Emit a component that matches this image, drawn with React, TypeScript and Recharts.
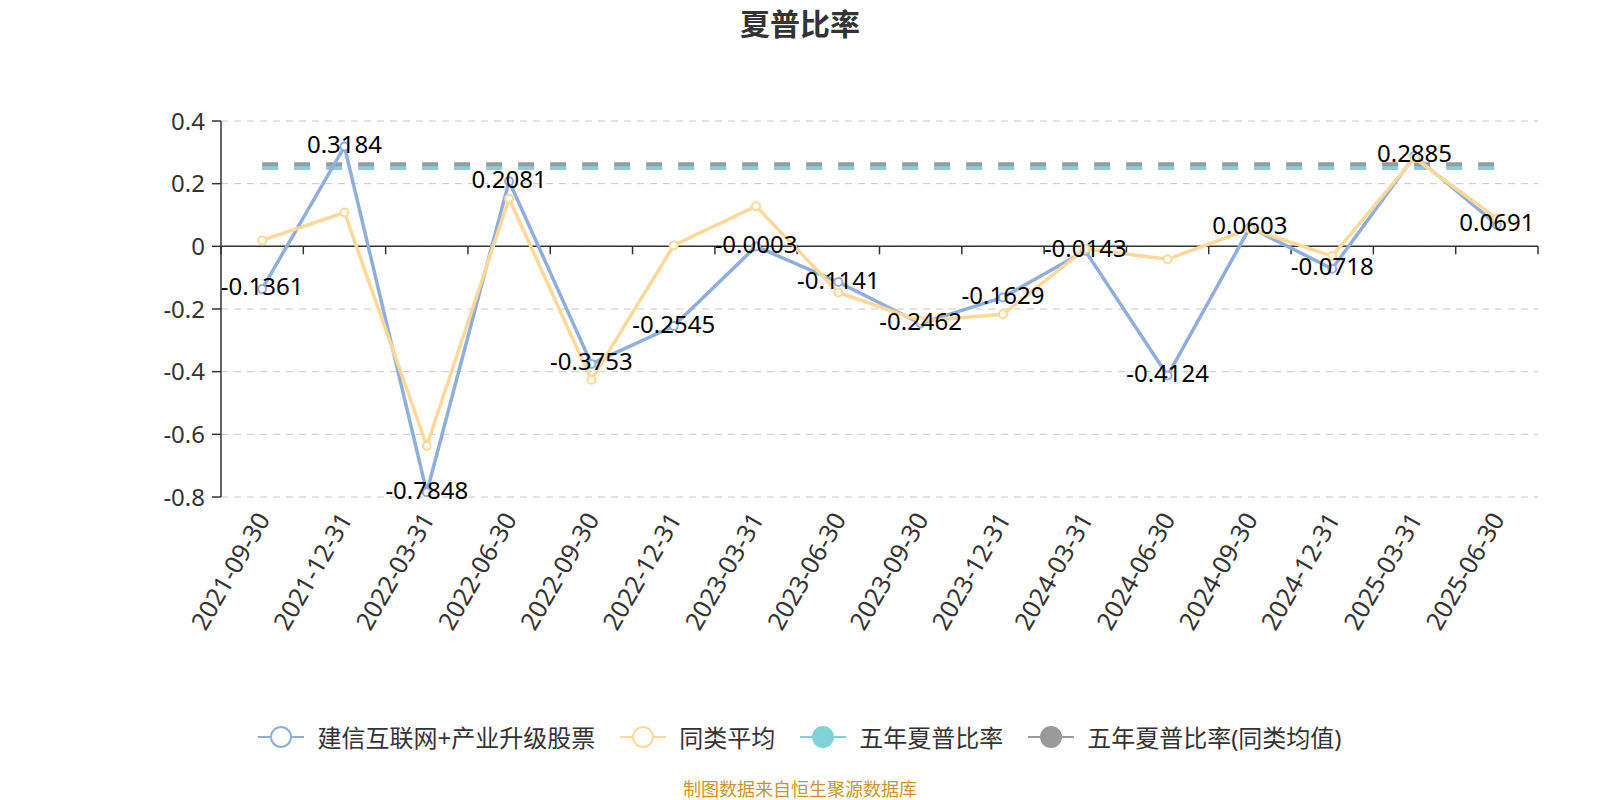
import { CartesianGrid, LabelList, Line, LineChart, ReferenceLine, XAxis, YAxis } from "recharts";

const dates = [
  "2021-09-30", "2021-12-31", "2022-03-31", "2022-06-30", "2022-09-30", "2022-12-31",
  "2023-03-31", "2023-06-30", "2023-09-30", "2023-12-31", "2024-03-31", "2024-06-30",
  "2024-09-30", "2024-12-31", "2025-03-31", "2025-06-30",
];
const fundSharpe = [
  -0.1361, 0.3184, -0.7848, 0.2081, -0.3753, -0.2545, -0.0003, -0.1141,
  -0.2462, -0.1629, -0.0143, -0.4124, 0.0603, -0.0718, 0.2885, 0.0691,
];
const peerSharpe = [
  0.019, 0.108, -0.637, 0.152, -0.426, 0.003, 0.128, -0.147,
  -0.238, -0.217, -0.008, -0.041, 0.056, -0.031, 0.282, 0.088,
];
const fiveYearFund = [
  0.25, 0.25, 0.25, 0.25, 0.25, 0.25, 0.25, 0.25,
  0.25, 0.25, 0.25, 0.25, 0.25, 0.25, 0.25, 0.25,
];
const fiveYearPeer = [
  0.262, 0.262, 0.262, 0.262, 0.262, 0.262, 0.262, 0.262,
  0.262, 0.262, 0.262, 0.262, 0.262, 0.262, 0.262, 0.262,
];
const yTicks = [0.4, 0.2, 0, -0.2, -0.4, -0.6, -0.8];

const seriesNames = ["建信互联网+产业升级股票", "同类平均", "五年夏普比率", "五年夏普比率(同类均值)"];
const BLUE = "#8eafdd";
const YELLOW = "#fdd898";
const CYAN = "#7fd3d6";
const GRAY = "#9a9a9a";
const FONT = "'Noto Sans', 'Noto Sans CJK SC', sans-serif";

const data = dates.map((d, i) => ({
  date: d,
  fund: fundSharpe[i],
  peer: peerSharpe[i],
  fy: fiveYearFund[i],
  fyPeer: fiveYearPeer[i],
}));

const DateTick = (props: any) => {
  const { x, y, payload } = props;
  const ty = y + 9;
  return (
    <text
      x={x}
      y={ty}
      transform={`rotate(-60, ${x}, ${ty})`}
      textAnchor="end"
      dominantBaseline="central"
      fontSize={25}
      fontFamily={FONT}
      fill="#333"
    >
      {payload.value}
    </text>
  );
};

const ZeroAxis = (props: any) => {
  const { x1, y1, x2 } = props;
  const n = dates.length;
  const step = (x2 - x1) / n;
  const marks = [];
  for (let i = 0; i <= n; i++) {
    const tx = x1 + step * i;
    marks.push(<line key={i} x1={tx} x2={tx} y1={y1} y2={y1 + 8} stroke="#333" strokeWidth={1.5} />);
  }
  return (
    <g>
      <line x1={x1} x2={x2} y1={y1} y2={y1} stroke="#333" strokeWidth={1.5} />
      {marks}
    </g>
  );
};

const ValueLabel = (props: any) => {
  const { x, y, value } = props;
  return (
    <text x={x} y={y - 3} textAnchor="middle" dominantBaseline="central" fontSize={24} fontFamily={FONT} fill="#000">
      {Number(value).toFixed(4)}
    </text>
  );
};

const LegendIcon = ({ color, filled }: { color: string; filled: boolean }) => (
  <svg width={46} height={26}>
    <line x1={0} x2={46} y1={13} y2={13} stroke={color} strokeWidth={2} />
    <circle cx={23} cy={13} r={10} fill={filled ? color : "#fff"} stroke={color} strokeWidth={2} />
  </svg>
);

const legendColors = [BLUE, YELLOW, CYAN, GRAY];

export default function App() {
  return (
    <div style={{ position: "absolute", left: 0, top: 0, width: 1600, height: 800, background: "#fff", fontFamily: FONT }}>
      <div
        style={{
          position: "absolute",
          top: 4,
          left: 0,
          width: 1600,
          textAlign: "center",
          fontSize: 30,
          fontWeight: "bold",
          color: "#333",
          lineHeight: "40px",
        }}
      >
        夏普比率
      </div>
      <LineChart width={1600} height={800} data={data} margin={{ top: 121, right: 62, left: 0, bottom: 0 }}>
        <CartesianGrid vertical={false} stroke="#c8c8c8" strokeDasharray="7 6" />
        <XAxis
          dataKey="date"
          scale="band"
          height={303}
          interval={0}
          axisLine={false}
          tickLine={false}
          tick={<DateTick />}
        />
        <YAxis
          width={221}
          domain={[-0.8, 0.4]}
          ticks={yTicks}
          interval={0}
          allowDataOverflow
          tickFormatter={(v: number) => (v === 0 ? "0" : String(v))}
          axisLine={{ stroke: "#333", strokeWidth: 1.5 }}
          tickLine={{ stroke: "#333", strokeWidth: 1.5 }}
          tickSize={9}
          tickMargin={7}
          tick={{ fontSize: 24, fill: "#333", fontFamily: FONT }}
        />
        <ReferenceLine y={0} shape={<ZeroAxis />} />
        <Line
          dataKey="fy"
          stroke={CYAN}
          strokeWidth={4}
          strokeDasharray="16 16"
          dot={false}
          activeDot={false}
          isAnimationActive={false}
        />
        <Line
          dataKey="fyPeer"
          stroke={GRAY}
          strokeWidth={4}
          strokeDasharray="16 16"
          dot={false}
          activeDot={false}
          isAnimationActive={false}
        />
        <Line
          dataKey="fund"
          stroke={BLUE}
          strokeWidth={3.5}
          dot={{ r: 4, fill: "#fff", stroke: BLUE, strokeWidth: 2 }}
          activeDot={false}
          isAnimationActive={false}
        />
        <Line
          dataKey="peer"
          stroke={YELLOW}
          strokeWidth={3.5}
          dot={{ r: 4, fill: "#fff", stroke: YELLOW, strokeWidth: 2 }}
          activeDot={false}
          isAnimationActive={false}
        />
        <Line
          dataKey="fund"
          stroke="none"
          dot={false}
          activeDot={false}
          legendType="none"
          isAnimationActive={false}
        >
          <LabelList dataKey="fund" content={<ValueLabel />} />
        </Line>
      </LineChart>
      <div
        style={{
          position: "absolute",
          top: 719,
          left: 0,
          width: 1600,
          display: "flex",
          justifyContent: "center",
          alignItems: "center",
          gap: 25,
          fontSize: 24,
          color: "#333",
        }}
      >
        {seriesNames.map((name, i) => (
          <div key={name} style={{ display: "flex", alignItems: "center", gap: 13 }}>
            <LegendIcon color={legendColors[i]} filled={i >= 2} />
            <span>{name}</span>
          </div>
        ))}
      </div>
      <div
        style={{
          position: "absolute",
          top: 777,
          left: 0,
          width: 1600,
          textAlign: "center",
          fontSize: 18,
          color: "#c9962b",
          lineHeight: "24px",
        }}
      >
        制图数据来自恒生聚源数据库
      </div>
    </div>
  );
}
